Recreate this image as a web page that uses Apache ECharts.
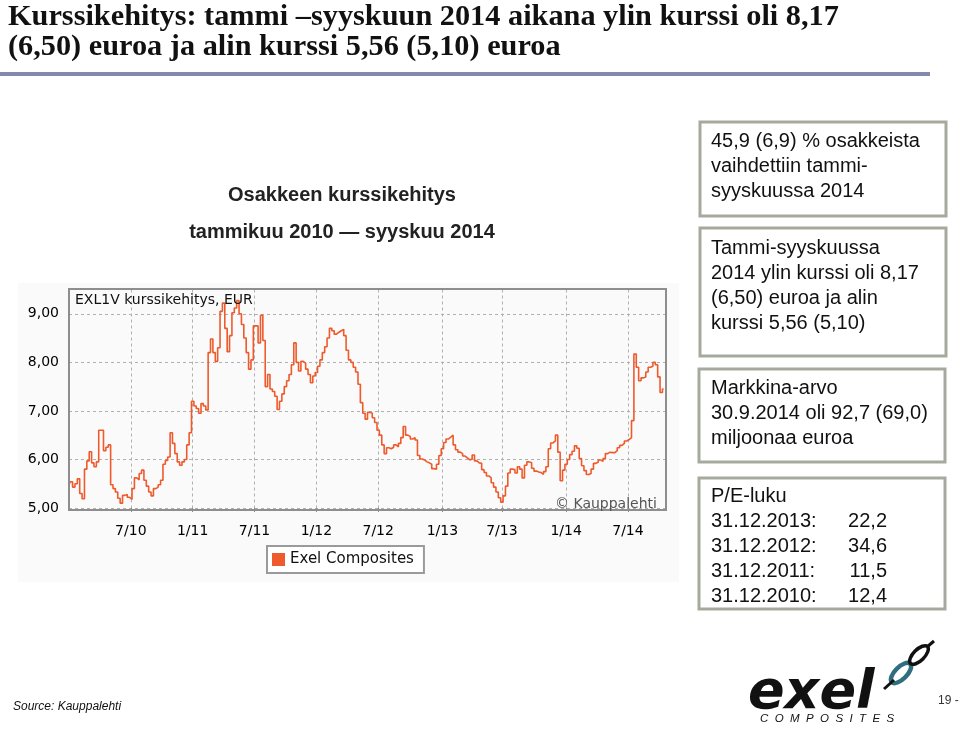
<!DOCTYPE html>
<html><head><meta charset="utf-8">
<script src="https://cdn.jsdelivr.net/npm/echarts@6/dist/echarts.min.js"></script>
<style>html,body{margin:0;padding:0;background:#fff}#c{width:960px;height:747px}</style>
</head><body><div id="c"></div>
<script>
// ---- data ----
const seriesName = 'Exel Composites';
const firstWeek = [2010, 0, 4];   // first weekly close (Mon 4.1.2010)
const weekCount = 252;            // weekly categories on the axis
const prices = [
  5.47,5.54,5.43,5.50,5.60,5.30,5.19,5.80,5.97,6.16,
  5.93,5.85,5.95,6.60,6.60,6.18,6.25,6.30,5.48,5.40,
  5.33,5.20,5.10,5.26,5.28,5.22,5.18,5.40,5.62,5.58,
  5.71,5.78,5.57,5.45,5.33,5.25,5.40,5.43,5.48,5.57,
  5.90,5.98,6.05,6.55,6.33,6.12,5.95,5.88,5.95,6.00,
  6.30,6.55,7.20,7.10,7.05,6.95,7.15,7.10,7.02,8.20,
  8.48,8.20,8.02,8.30,9.05,9.22,8.70,8.22,8.55,9.02,
  9.12,9.27,9.00,8.78,8.50,8.20,7.86,8.05,8.75,8.75,
  8.40,8.97,8.45,7.50,7.75,7.45,7.40,7.30,7.03,7.20,
  7.35,7.50,7.62,7.75,7.95,8.40,8.00,7.82,8.02,7.98,
  7.86,7.75,7.58,7.72,7.79,7.92,8.05,8.20,8.32,8.50,
  8.70,8.65,8.58,8.62,8.65,8.68,8.55,8.25,8.05,8.00,
  7.90,7.80,7.55,7.17,6.95,6.83,6.97,6.95,6.86,6.76,
  6.60,6.50,6.30,6.12,6.24,6.22,6.25,6.30,6.26,6.33,
  6.45,6.68,6.50,6.47,6.42,6.45,6.40,6.08,6.01,5.99,
  5.95,5.93,5.90,5.81,5.80,5.90,6.08,6.22,6.35,6.42,
  6.46,6.50,6.30,6.20,6.15,6.12,6.07,6.03,5.99,6.01,
  6.09,5.97,5.93,5.92,5.79,5.73,5.66,5.62,5.52,5.43,
  5.33,5.21,5.12,5.25,5.45,5.72,5.80,5.79,5.72,5.85,
  5.80,5.62,5.88,5.95,5.93,5.82,5.76,5.74,5.73,5.69,
  5.75,5.85,6.22,6.34,6.38,6.50,6.15,5.56,5.78,5.90,
  6.00,6.10,6.17,6.28,6.23,6.02,5.87,5.77,5.69,5.71,
  5.80,5.92,5.94,5.99,5.96,6.02,6.12,6.15,6.14,6.14,
  6.18,6.24,6.29,6.33,6.38,6.41,6.45,6.80,8.17,7.90,
  7.62,7.68,7.70,7.80,7.90,7.92,8.00,7.95,7.70,7.38,7.45
];
const xTickLabels = ['7/10','1/11','7/11','1/12','7/12','1/13','7/13','1/14','7/14'];
const yMin = 5, yMax = 9.5, yStep = 1;

const titleLines = ['Kurssikehitys: tammi \u2013syyskuun 2014 aikana ylin kurssi oli 8,17', '(6,50) euroa ja alin kurssi 5,56 (5,10) euroa'];
const chartHeading = 'Osakkeen kurssikehitys';
const chartPeriod = 'tammikuu 2010 \u2014 syyskuu 2014';
const chartInnerTitle = 'EXL1V kurssikehitys, EUR';
const chartCopyright = '\u00a9 Kauppalehti';
const box1Lines = ['45,9 (6,9) % osakkeista', 'vaihdettiin tammi-', 'syyskuussa 2014'];
const box2Lines = ['Tammi-syyskuussa', '2014 ylin kurssi oli 8,17', '(6,50) euroa ja alin', 'kurssi 5,56 (5,10)'];
const box3Lines = ['Markkina-arvo', '30.9.2014 oli 92,7 (69,0)', 'miljoonaa euroa'];
const peTitle = 'P/E-luku';
const peDates = ['31.12.2013:', '31.12.2012:', '31.12.2011:', '31.12.2010:'];
const peValues = ['22,2', '34,6', '11,5', '12,4'];
const sourceText = 'Source: Kauppalehti';
const pageNo = '19 -';

// ---- categories (weekly dates) ----
const categories = [];
const t0 = Date.UTC(firstWeek[0], firstWeek[1], firstWeek[2]);
for (let i = 0; i < weekCount; i++) {
  const d = new Date(t0 + i * 7 * 86400000);
  categories.push(d.getUTCFullYear() + '-' + String(d.getUTCMonth() + 1).padStart(2, '0') + '-' + String(d.getUTCDate()).padStart(2, '0'));
}
function tickText(cat) {
  const p = cat.split('-').map(Number);
  if (p[2] <= 7 && (p[1] === 1 || p[1] === 7)) {
    const s = p[1] + '/' + String(p[0] % 100).padStart(2, '0');
    return xTickLabels.indexOf(s) >= 0 ? s : '';
  }
  return '';
}
const isTick = (idx, val) => tickText(categories[idx]) !== '';

// ---- layout helpers ----
const ORANGE = '#ef5a2c';
const BOX = '#a5aa9d';
function textEl(x, y, text, o) {
  o = o || {};
  return { type: 'text', x: x, y: y, z: o.z || 5, style: Object.assign({
    text: text, fill: '#111', fontFamily: 'Liberation Sans', fontSize: 20,
    align: 'left', verticalAlign: 'top' }, o.style || {}) };
}
function boxEl(x, y, w, h) {
  return { type: 'rect', z: 2, shape: { x: x, y: y, width: w, height: h },
    style: { fill: '#fff', stroke: BOX, lineWidth: 3 } };
}
const bodyStyle = { fontSize: 20, lineHeight: 25, fontFamily: 'Liberation Sans' };

const graphics = [
  { type: 'rect', z: 0, shape: { x: 18, y: 283, width: 661, height: 299 }, style: { fill: '#fafafa' } },
  textEl(8, 2, titleLines.join('\n'), { style: { fontFamily: 'Liberation Serif', fontWeight: 'bold', fontSize: 30.3, lineHeight: 30 } }),
  { type: 'rect', z: 1, shape: { x: 0, y: 72, width: 930, height: 4 }, style: { fill: '#8589ad' } },
  textEl(342, 195, chartHeading, { style: { fontWeight: 'bold', fontSize: 20, align: 'center', verticalAlign: 'middle', fill: '#222' } }),
  textEl(342, 232, chartPeriod, { style: { fontWeight: 'bold', fontSize: 20, align: 'center', verticalAlign: 'middle', fill: '#222' } }),
  { type: 'rect', z: 20, shape: { x: 69, y: 289, width: 597, height: 221 }, style: { fill: 'none', stroke: '#8e8e8e', lineWidth: 2 } },
  textEl(75, 293, chartInnerTitle, { z: 21, style: { fontFamily: 'DejaVu Sans', fontSize: 14, fill: '#111' } }),
  textEl(555, 497, chartCopyright, { z: 21, style: { fontFamily: 'DejaVu Sans', fontSize: 14, fill: '#555' } }),
  boxEl(700, 122, 246, 94),
  textEl(711, 129, box1Lines.join('\n'), { style: bodyStyle }),
  boxEl(700, 228, 246, 128),
  textEl(711, 235.5, box2Lines.join('\n'), { style: bodyStyle }),
  boxEl(699, 369, 246, 93),
  textEl(711, 375.5, box3Lines.join('\n'), { style: bodyStyle }),
  boxEl(699, 478, 246, 131),
  textEl(711, 483.5, [peTitle].concat(peDates).join('\n'), { style: bodyStyle }),
  textEl(887, 483.5, [''].concat(peValues).join('\n'), { style: Object.assign({ align: 'right' }, bodyStyle) }),
  textEl(13, 707, sourceText, { style: { fontSize: 12, fontStyle: 'italic', verticalAlign: 'middle' } }),
  textEl(938, 701, pageNo, { style: { fontSize: 12, verticalAlign: 'middle', fill: '#333' } }),
  // logo
  textEl(748, 694, 'exel', { style: { fontFamily: 'DejaVu Sans', fontWeight: 'bold', fontStyle: 'italic', fontSize: 54, verticalAlign: 'middle', fill: '#111' } }),
  textEl(760, 719, 'C  O  M  P  O  S  I  T  E  S', { style: { fontSize: 11.5, fontStyle: 'italic', verticalAlign: 'middle', fill: '#111' } }),
  { type: 'ellipse', z: 6, shape: { cx: 0, cy: 0, rx: 13, ry: 6 }, x: 901, y: 673, rotation: Math.PI / 4,
    style: { fill: 'none', stroke: '#2e6e7e', lineWidth: 4.5 } },
  { type: 'ellipse', z: 6, shape: { cx: 0, cy: 0, rx: 12, ry: 5.5 }, x: 919, y: 655, rotation: Math.PI / 4,
    style: { fill: 'none', stroke: '#111', lineWidth: 3.5 } },
  { type: 'line', z: 7, shape: { x1: 884, y1: 689, x2: 894, y2: 680 }, style: { stroke: '#111', lineWidth: 3 } },
  { type: 'line', z: 7, shape: { x1: 927, y1: 647, x2: 934, y2: 641 }, style: { stroke: '#111', lineWidth: 3 } }
];

const chart = echarts.init(document.getElementById('c'));
chart.setOption({
  backgroundColor: '#fff',
  animation: false,
  grid: { left: 69, right: 294, top: 289.5, bottom: 239, containLabel: false },
  legend: {
    data: [seriesName], left: 267, top: 546, orient: 'horizontal',
    icon: 'rect', itemWidth: 13, itemHeight: 13, itemGap: 5,
    padding: [6, 10, 6, 5], borderColor: '#9a9a9a', borderWidth: 2, backgroundColor: '#fff',
    textStyle: { fontFamily: 'DejaVu Sans', fontSize: 15, color: '#111' }
  },
  xAxis: {
    type: 'category', data: categories, boundaryGap: false,
    axisLine: { show: false },
    axisTick: { show: true, interval: isTick, length: 4, lineStyle: { color: '#888' } },
    axisLabel: { interval: isTick, formatter: (v) => tickText(v), margin: 16,
      fontFamily: 'DejaVu Sans', fontSize: 14, color: '#000' },
    splitLine: { show: true, interval: isTick, lineStyle: { color: '#b0b0b0', type: [3, 3], width: 1 } }
  },
  yAxis: {
    type: 'value', min: yMin, max: yMax, interval: yStep,
    axisLine: { show: false }, axisTick: { show: false },
    axisLabel: { margin: 10, fontFamily: 'DejaVu Sans', fontSize: 14, color: '#000',
      showMaxLabel: false,
      formatter: (v) => (Math.abs(v - Math.round(v)) < 1e-6 ? v.toFixed(2).replace('.', ',') : '') },
    splitLine: { show: true, lineStyle: { color: '#b0b0b0', type: [3, 3], width: 1 } }
  },
  series: [{
    name: seriesName, type: 'line', data: prices, showSymbol: false, symbol: 'none',
    step: 'middle',
    lineStyle: { color: ORANGE, width: 1.6 }, itemStyle: { color: ORANGE }, z: 3
  }],
  graphic: graphics
});
</script>
</body></html>
